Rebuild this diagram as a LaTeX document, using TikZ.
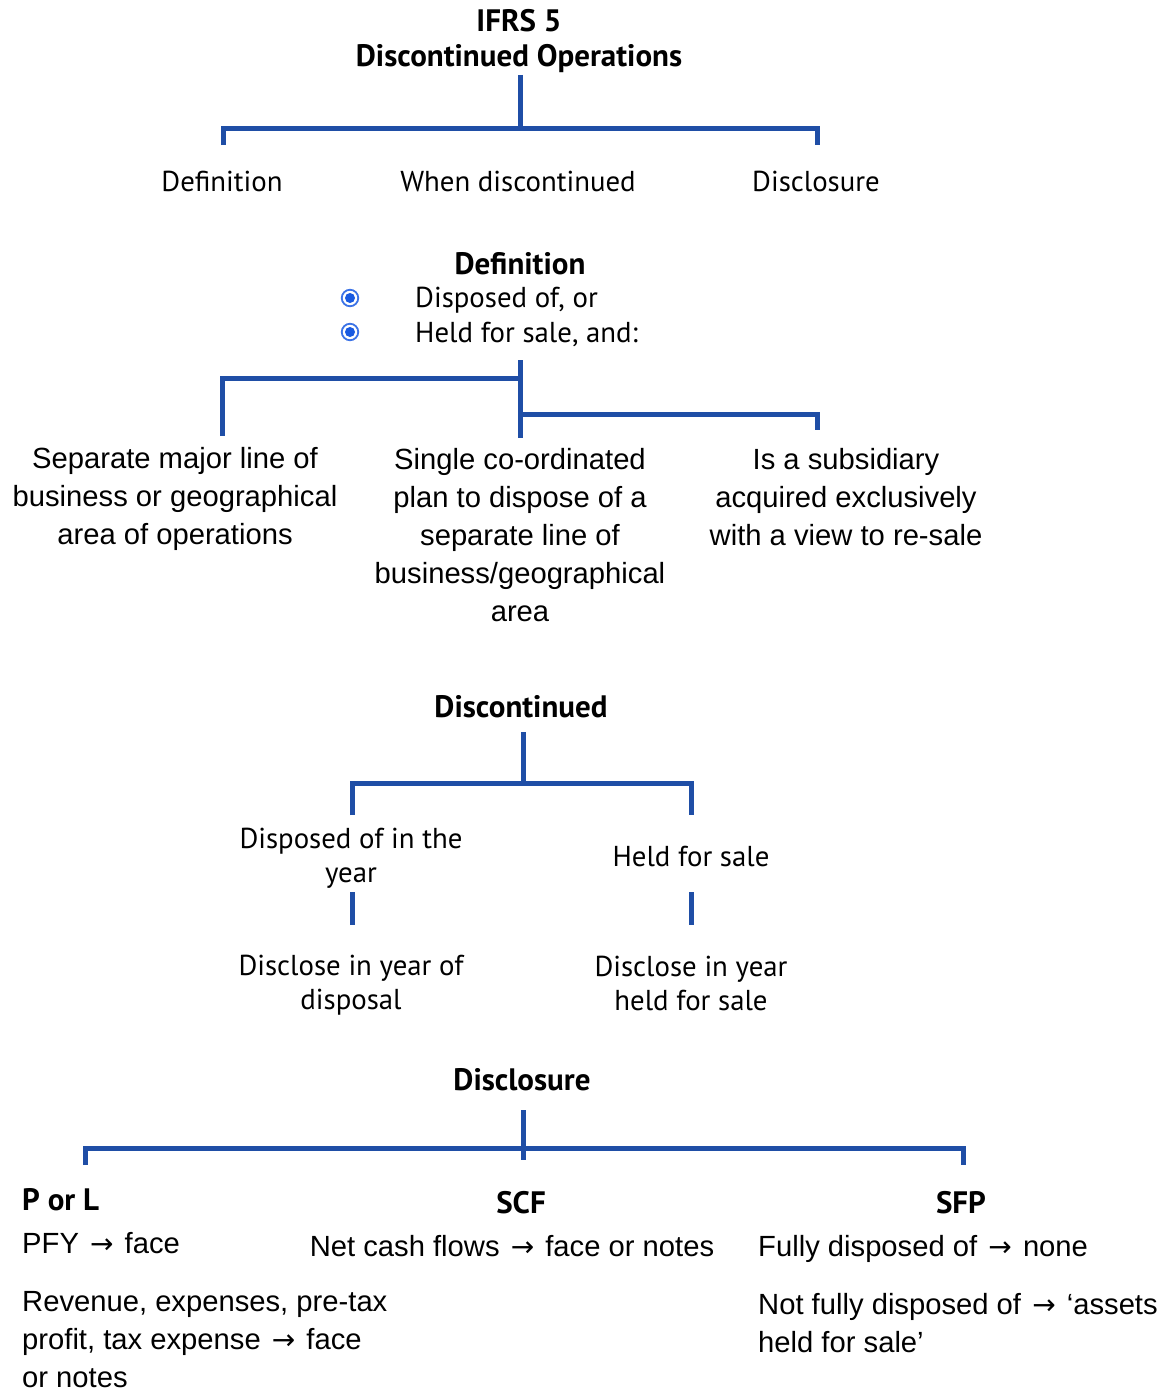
\documentclass[tikz,border=0pt]{standalone}
\usepackage{fontspec}
\setmainfont{Liberation Sans}
\newfontfamily\myr{PT Sans}
\newfontfamily\dejavu{DejaVu Sans}
\newcommand\rarr{\kern3pt{\dejavu\fontsize{28}{28}\selectfont →}\kern3pt}
\definecolor{tree}{RGB}{31,78,166}
\definecolor{bulc}{RGB}{25,90,225}
\begin{document}
\begin{tikzpicture}[x=1pt,y=-1pt,
  ln/.style={draw=tree,line width=5pt,line join=miter},
  my/.style={font=\myr\fontsize{28.8}{34}\selectfont, inner sep=0pt, align=center},
  myb/.style={font=\myr\bfseries\fontsize{31}{35}\selectfont, inner sep=0pt, align=center},
  ar/.style={font=\fontsize{29.2}{38}\selectfont, inner sep=0pt, align=center},
  arl/.style={ar, align=left, anchor=west},
  arb/.style={ar, anchor=base west},
  myl/.style={my, align=left, anchor=west},
  bul/.style={circle, draw=bulc!85, line width=1.8pt, fill=white, minimum size=16.5pt, inner sep=0pt,
    path picture={\fill[bulc] (path picture bounding box.center) circle (5pt);}}
]
\useasboundingbox (0,0) rectangle (1165,1389);

% ---- Top tree
\node[myb] (title) at (519,41) {IFRS 5\\Discontinued Operations};
\node[my] (def) at (222,181) {Definition};
\node[my] (when) at (518,181) {When discontinued};
\node[my] (discl) at (816,181) {Disclosure};
\coordinate (t0) at (520,75);
\coordinate (tj) at (520,128);
\coordinate (tl) at (223,128);
\coordinate (tla) at (223,145);
\coordinate (tr) at (817,128);
\coordinate (tra) at (817,145);
\draw[ln] (t0) -- (tj);
\draw[ln] (tla) -- (tl) -- (tr) -- (tra);

% ---- Definition
\node[myb] (defh) at (520,264) {Definition};
\node[bul] (b1) at (350,298) {};
\node[bul] (b2) at (350,332) {};
\node[myl] (d1) at (415,300) {Disposed of, or};
\node[myl] (d2) at (415,334) {Held for sale, and:};
\coordinate (u0) at (520,360);
\coordinate (u1) at (520,438);
\coordinate (ul) at (222,378);
\coordinate (ula) at (222,436);
\coordinate (uj) at (520,378);
\coordinate (ur0) at (520,414);
\coordinate (ur) at (817,414);
\coordinate (ura) at (817,430);
\draw[ln] (u0) -- (u1);
\draw[ln] (ula) -- (ul) -- (uj);
\draw[ln] (ur0) -- (ur) -- (ura);
\node[ar] (sep) at (175,499) {Separate major line of\\business or geographical\\area of operations};
\node[ar] (single) at (520,535) {Single co-ordinated\\plan to dispose of a\\separate line of\\business/geographical\\area};
\node[ar] (subs) at (846,497) {Is a subsidiary\\acquired exclusively\\with a view to re-sale};

% ---- Discontinued
\node[myb] (disch) at (521,707) {Discontinued};
\coordinate (v0) at (523,732);
\coordinate (vj) at (523,783);
\coordinate (vl) at (352,783);
\coordinate (vla) at (352,815);
\coordinate (vr) at (691,783);
\coordinate (vra) at (691,815);
\draw[ln] (v0) -- (vj);
\draw[ln] (vla) -- (vl) -- (vr) -- (vra);
\node[my] (dyear) at (351,858) {Disposed of in the\\year};
\node[my] (hfs) at (691,856) {Held for sale};
\coordinate (w1a) at (352,892);
\coordinate (w1b) at (352,925);
\coordinate (w2a) at (691,892);
\coordinate (w2b) at (691,925);
\draw[ln] (w1a) -- (w1b);
\draw[ln] (w2a) -- (w2b);
\node[my] (dd) at (351,985) {Disclose in year of\\disposal};
\node[my] (dh) at (691,983) {Disclose in year\\held for sale};

% ---- Disclosure
\node[myb] (disc2) at (522,1080) {Disclosure};
\coordinate (x0) at (523,1110);
\coordinate (x1) at (523,1160);
\coordinate (xl) at (85,1148);
\coordinate (xla) at (85,1165);
\coordinate (xr) at (963,1148);
\coordinate (xra) at (963,1165);
\draw[ln] (x0) -- (x1);
\draw[ln] (xla) -- (xl) -- (xr) -- (xra);
\node[myb, anchor=west] (pl) at (22,1200) {P or L};
\node[arb] (pfy) at (22,1253.5) {PFY \rarr\ face};
\node[arl] (rev) at (22,1339.5) {Revenue, expenses, pre-tax\\profit, tax expense \rarr\ face\\or notes};
\node[myb] (scf) at (521,1203) {SCF};
\node[ar, anchor=base] (ncf) at (512,1256.5) {Net cash flows \rarr\ face or notes};
\node[myb] (sfp) at (961,1203) {SFP};
\node[arb] (fd) at (758,1256.5) {Fully disposed of \rarr\ none};
\node[arl] (nfd) at (758,1323) {Not fully disposed of \rarr\ ‘assets\\held for sale’};
\end{tikzpicture}
\end{document}
